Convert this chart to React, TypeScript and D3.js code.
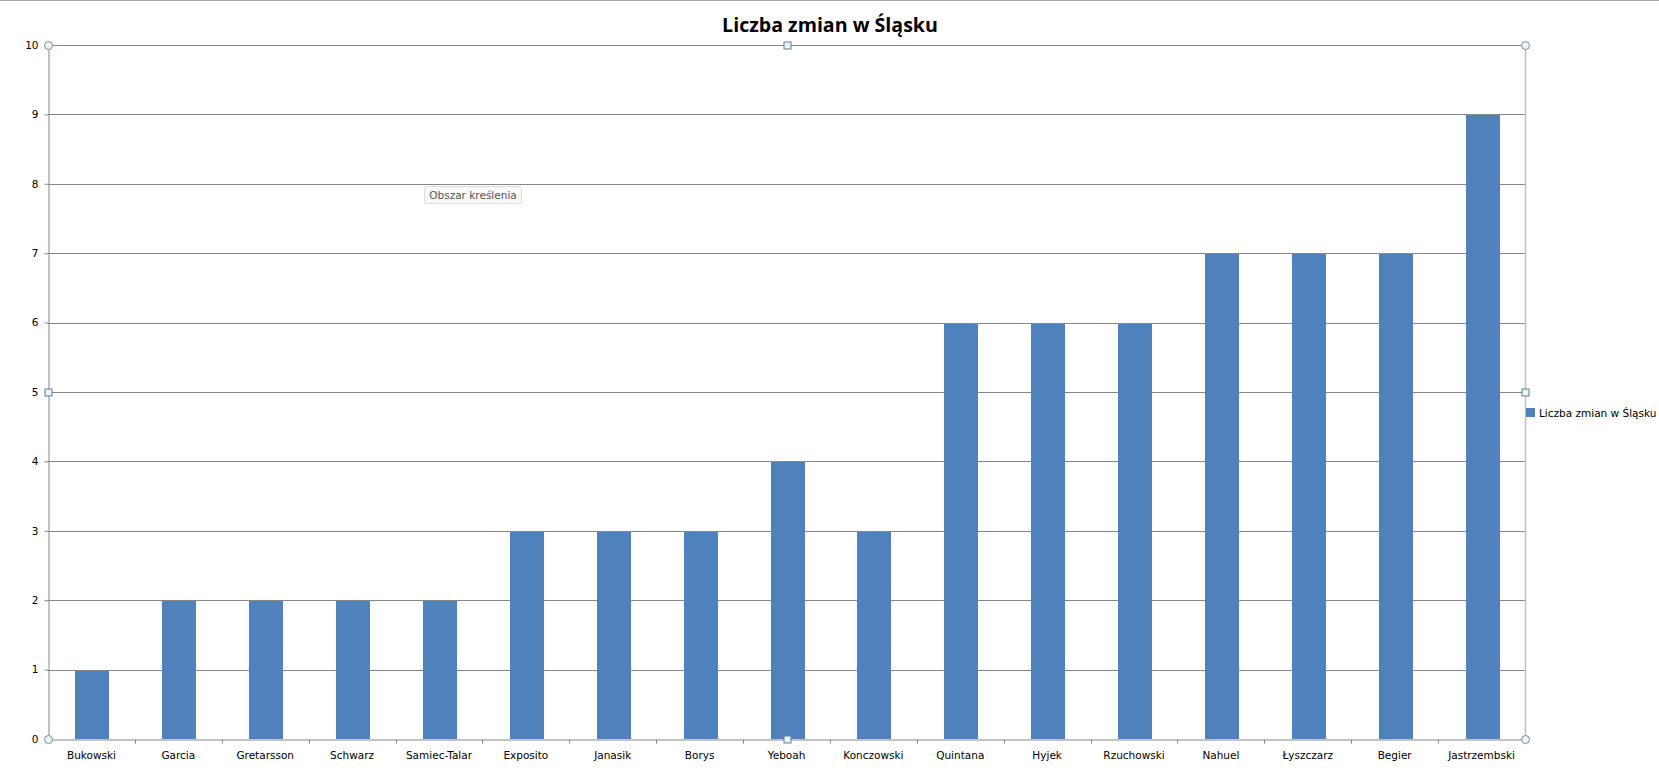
import React, { useEffect, useRef } from 'react';
import * as d3 from 'd3';

// chart data
const players = [
  'Bukowski', 'Garcia', 'Gretarsson', 'Schwarz', 'Samiec-Talar', 'Exposito', 'Janasik', 'Borys',
  'Yeboah', 'Konczowski', 'Quintana', 'Hyjek', 'Rzuchowski', 'Nahuel', 'Łyszczarz', 'Begier', 'Jastrzembski'
];
const changes = [1, 2, 2, 2, 2, 3, 3, 3, 4, 3, 6, 6, 6, 7, 7, 7, 9];
const yTicks = [0, 1, 2, 3, 4, 5, 6, 7, 8, 9, 10];
const title = 'Liczba zmian w Śląsku';
const legendLabel = 'Liczba zmian  w Śląsku';

const W = 1659;
const H = 771;
const plot = { left: 48, right: 1525, top: 45, bottom: 739 };
const labelFont = '"DejaVu Sans", Verdana, sans-serif';

export default function App() {
  const ref = useRef<SVGSVGElement>(null);

  useEffect(() => {
    const svg = d3.select(ref.current);
    svg.selectAll('*').remove();

    const x = d3.scaleBand().domain(players).range([plot.left, plot.right]).paddingInner(0).paddingOuter(0);
    const y = d3.scaleLinear().domain([0, 10]).range([plot.bottom, plot.top]);
    const barW = 34;

    // window top rule
    svg.append('line').attr('x1', 0).attr('x2', W).attr('y1', 0.5).attr('y2', 0.5)
      .attr('stroke', '#a6a6a6').attr('stroke-width', 1);

    // title
    svg.append('text').attr('x', 830).attr('y', 32).attr('text-anchor', 'middle')
      .attr('font-family', '"Open Sans", sans-serif').attr('font-weight', 'bold').attr('font-size', 19.6)
      .attr('fill', '#000').text(title);

    // gridlines
    svg.append('g').selectAll('line').data(yTicks.filter(t => t > 0)).enter().append('line')
      .attr('x1', plot.left).attr('x2', plot.right)
      .attr('y1', d => Math.round(y(d)) + 0.5).attr('y2', d => Math.round(y(d)) + 0.5)
      .attr('stroke', '#868686').attr('stroke-width', 1);

    // plot area frame on the right (selection frame)
    svg.append('line').attr('x1', plot.right + 0.5).attr('x2', plot.right + 0.5)
      .attr('y1', plot.top).attr('y2', plot.bottom).attr('stroke', '#bfbfbf').attr('stroke-width', 1.5);

    // bars
    svg.append('g').selectAll('rect').data(changes).enter().append('rect')
      .attr('x', (d, i) => Math.round(x(players[i])! + x.bandwidth() / 2 - barW / 2) + 1)
      .attr('width', barW)
      .attr('y', d => Math.round(y(d)) + 1)
      .attr('height', d => Math.round(y(0)) - Math.round(y(d)) - 1)
      .attr('fill', '#4f81bd');

    // y axis
    const yAxis = svg.append('g').attr('transform', `translate(${plot.left + 0.5},0)`)
      .call(d3.axisLeft(y).tickValues(yTicks).tickSize(4).tickSizeOuter(0).tickPadding(6));
    yAxis.select('.domain').attr('stroke', '#868686');
    yAxis.selectAll('.tick line').attr('stroke', '#868686');
    yAxis.selectAll('text').attr('font-family', labelFont).attr('font-size', 10.5).attr('fill', '#000');

    // x axis
    const xAxis = svg.append('g').attr('transform', `translate(0,${Math.round(plot.bottom) + 0.5})`)
      .call(d3.axisBottom(x).tickSize(0).tickSizeOuter(0).tickPadding(12));
    xAxis.select('.domain').attr('stroke', '#868686');
    xAxis.selectAll('text').attr('font-family', labelFont).attr('font-size', 10.5).attr('fill', '#000');
    // tick marks at band boundaries
    xAxis.append('g').selectAll('line').data(players.slice(1)).enter().append('line')
      .attr('x1', d => Math.round(x(d)!) + 0.5).attr('x2', d => Math.round(x(d)!) + 0.5)
      .attr('y1', 0).attr('y2', 4).attr('stroke', '#868686');

    // legend
    svg.append('rect').attr('x', 1526).attr('y', 408).attr('width', 9).attr('height', 9).attr('fill', '#4f81bd');
    svg.append('text').attr('x', 1539).attr('y', 416.5).attr('font-family', labelFont).attr('font-size', 10.5)
      .attr('fill', '#000').text(legendLabel);

    // tooltip "Obszar kreślenia"
    svg.append('rect').attr('x', 424.5).attr('y', 186.5).attr('width', 97).attr('height', 17).attr('rx', 2)
      .attr('fill', '#f9f9f9').attr('stroke', '#dcdcdc');
    svg.append('text').attr('x', 473).attr('y', 199).attr('text-anchor', 'middle')
      .attr('font-family', labelFont).attr('font-size', 10.5).attr('fill', '#555').text('Obszar kreślenia');

    // selection handles
    const cx = (plot.left + plot.right) / 2;
    const cy = (plot.top + plot.bottom) / 2;
    const corners = [[plot.left, plot.top], [plot.right, plot.top], [plot.left, plot.bottom], [plot.right, plot.bottom]];
    const mids = [[cx, plot.top], [cx, plot.bottom], [plot.left, cy], [plot.right, cy]];
    svg.append('g').selectAll('circle').data(corners).enter().append('circle')
      .attr('cx', d => d[0] + 0.5).attr('cy', d => d[1] + 0.5).attr('r', 4)
      .attr('fill', '#e4f6f8').attr('stroke', '#7f8c95').attr('stroke-width', 1);
    svg.append('g').selectAll('rect').data(mids).enter().append('rect')
      .attr('x', d => Math.round(d[0]) - 3).attr('y', d => Math.round(d[1]) - 3)
      .attr('width', 7).attr('height', 7)
      .attr('fill', '#e4f6f8').attr('stroke', '#5f7f99').attr('stroke-width', 1);
  }, []);

  return (
    <svg ref={ref} width={W} height={H}
      style={{ position: 'fixed', left: 0, top: 0, background: '#fff', display: 'block' }} />
  );
}
